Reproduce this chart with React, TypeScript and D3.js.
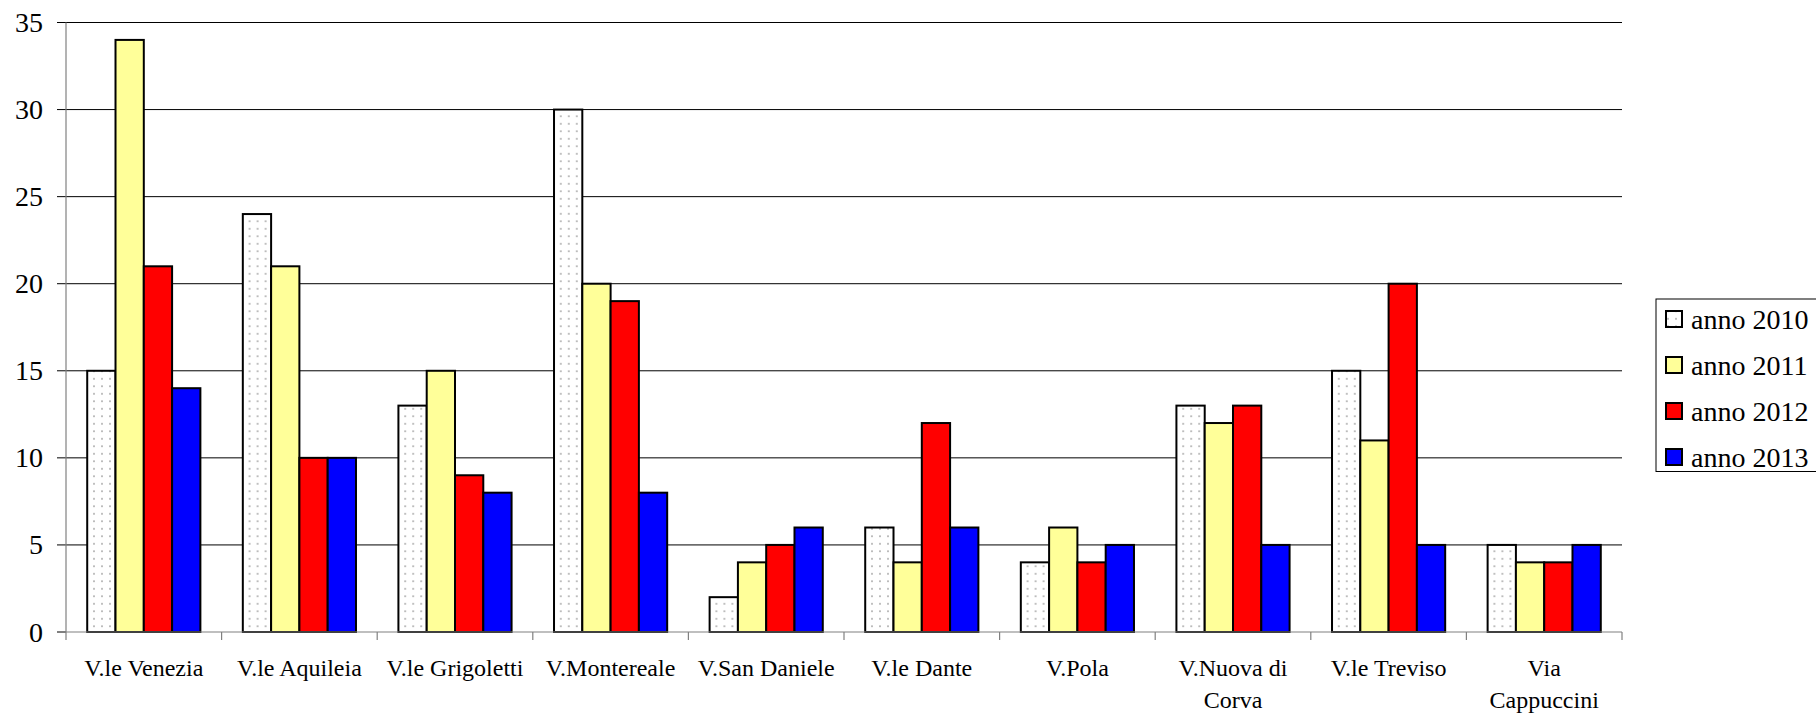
import React, { useEffect } from 'react';
import * as d3 from 'd3';

const categories = [
  'V.le Venezia',
  'V.le Aquileia',
  'V.le Grigoletti',
  'V.Montereale',
  'V.San Daniele',
  'V.le Dante',
  'V.Pola',
  'V.Nuova di Corva',
  'V.le Treviso',
  'Via Cappuccini',
];

// how each category label wraps under the axis
const categoryLines: string[][] = [
  ['V.le Venezia'],
  ['V.le Aquileia'],
  ['V.le Grigoletti'],
  ['V.Montereale'],
  ['V.San Daniele'],
  ['V.le Dante'],
  ['V.Pola'],
  ['V.Nuova di', 'Corva'],
  ['V.le Treviso'],
  ['Via', 'Cappuccini'],
];

const seriesNames = ['anno 2010', 'anno 2011', 'anno 2012', 'anno 2013'];

const anno2010 = [15, 24, 13, 30, 2, 6, 4, 13, 15, 5];
const anno2011 = [34, 21, 15, 20, 4, 4, 6, 12, 11, 4];
const anno2012 = [21, 10, 9, 19, 5, 12, 4, 13, 20, 4];
const anno2013 = [14, 10, 8, 8, 6, 6, 5, 5, 5, 5];

const yTicks = [0, 5, 10, 15, 20, 25, 30, 35];

const seriesValues = [anno2010, anno2011, anno2012, anno2013];
const fills = ['url(#dots2010)', '#FFFF99', '#FF0000', '#0000FF'];

const W = 1816;
const H = 713;
const serif = { fontFamily: '"Liberation Serif", "Times New Roman", serif' };

const App: React.FC = () => {
  useEffect(() => {
    document.body.style.margin = '0';
  }, []);

  const left = 66;
  const right = 1622;
  const top = 22.5;
  const bottom = 632;

  const x0 = d3.scaleBand<string>().domain(categories).range([left, right]);
  const x1 = d3
    .scaleBand<string>()
    .domain(seriesNames)
    .range([0, x0.bandwidth()])
    .paddingOuter(0.75);
  const y = d3.scaleLinear().domain([0, 35]).range([bottom, top]);

  const legendX = 1656;
  const legendY = 299;
  const rowY = d3.scalePoint<string>().domain(seriesNames).range([319, 457]);

  return (
    <svg width={W} height={H} style={{ display: 'block', ...serif }}>
      <defs>
        <pattern id="dots2010" width={8} height={7.5} patternUnits="userSpaceOnUse">
          <rect width={8} height={7.5} fill="#fff" />
          <rect x={3.2} y={3} width={1.6} height={1.6} fill="#a0a0a0" />
        </pattern>
      </defs>

      {/* gridlines + y ticks */}
      {yTicks.map((t) => (
        <g key={t}>
          <line
            x1={57}
            x2={t === 0 ? left : right}
            y1={y(t)}
            y2={y(t)}
            stroke="#000"
            strokeWidth={1}
          />
          <text x={43} y={y(t) + 9.5} textAnchor="end" fontSize={28} fill="#000" style={serif}>
            {t}
          </text>
        </g>
      ))}

      {/* bars */}
      {categories.map((c, i) => (
        <g key={c} transform={`translate(${x0(c)},0)`}>
          {seriesNames.map((s, k) => {
            const v = seriesValues[k][i];
            return (
              <rect
                key={s}
                x={x1(s)}
                y={y(v)}
                width={x1.bandwidth()}
                height={y(0) - y(v)}
                fill={fills[k]}
                stroke="#000"
                strokeWidth={2}
              />
            );
          })}
        </g>
      ))}

      {/* axes */}
      <line x1={left} x2={left} y1={top} y2={bottom} stroke="#808080" strokeWidth={1.2} />
      <line x1={left} x2={right} y1={bottom} y2={bottom} stroke="#808080" strokeWidth={1.2} />
      {d3.range(categories.length + 1).map((i) => {
        const xx = left + i * x0.step();
        return (
          <line key={i} x1={xx} x2={xx} y1={bottom} y2={bottom + 8} stroke="#808080" strokeWidth={1.2} />
        );
      })}

      {/* category labels */}
      {categories.map((c, i) => (
        <text
          key={c}
          x={(x0(c) ?? 0) + x0.bandwidth() / 2}
          textAnchor="middle"
          fontSize={24}
          fill="#000"
          style={serif}
        >
          {categoryLines[i].map((line, j) => (
            <tspan key={j} x={(x0(c) ?? 0) + x0.bandwidth() / 2} y={676 + j * 32}>
              {line}
            </tspan>
          ))}
        </text>
      ))}

      {/* legend */}
      <rect
        x={legendX}
        y={legendY}
        width={W - legendX + 4}
        height={172.5}
        fill="#fff"
        stroke="#000"
        strokeWidth={1}
      />
      {seriesNames.map((s, k) => (
        <g key={s}>
          <rect
            x={1666}
            y={(rowY(s) ?? 0) - 8}
            width={16}
            height={16}
            fill={fills[k]}
            stroke="#000"
            strokeWidth={2}
          />
          <text x={1691} y={(rowY(s) ?? 0) + 10} fontSize={28} fill="#000" style={serif}>
            {s}
          </text>
        </g>
      ))}
    </svg>
  );
};

export default App;
